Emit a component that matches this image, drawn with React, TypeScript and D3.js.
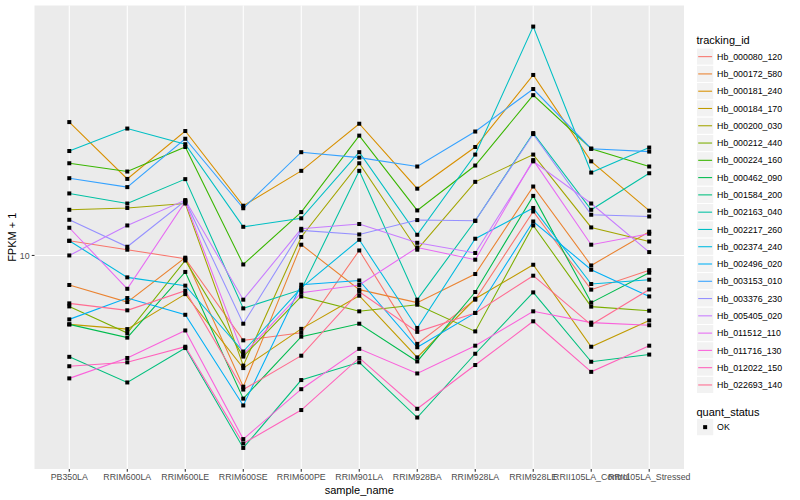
import * as d3 from 'd3';

// sample order along the x axis
const samples = [
  'PB350LA', 'RRIM600LA', 'RRIM600LE', 'RRIM600SE', 'RRIM600PE', 'RRIM901LA',
  'RRIM928BA', 'RRIM928LA', 'RRIM928LE', 'RRII105LA_Control', 'RRII105LA_Stressed',
];

const trackingIds = [
  'Hb_000080_120', 'Hb_000172_580', 'Hb_000181_240', 'Hb_000184_170', 'Hb_000200_030',
  'Hb_000212_440', 'Hb_000224_160', 'Hb_000462_090', 'Hb_001584_200', 'Hb_002163_040',
  'Hb_002217_260', 'Hb_002374_240', 'Hb_002496_020', 'Hb_003153_010', 'Hb_003376_230',
  'Hb_005405_020', 'Hb_011512_110', 'Hb_011716_130', 'Hb_012022_150', 'Hb_022693_140',
];

// FPKM + 1, one array per gene, in sample order
const hb000080_120 = [11.19, 10.45, 9.75, 5.21, 5.52, 10.39, 5.07, 7.12, 14.02, 7.69, 8.93];
const hb000172_580 = [7.97, 6.99, 9.83, 3.65, 10.86, 7.69, 6.96, 8.67, 16.98, 9.26, 12.0];
const hb000181_240 = [27.85, 18.0, 26.0, 14.65, 19.15, 27.5, 16.7, 23.0, 40.0, 20.6, 14.1];
const hb000184_170 = [5.89, 5.68, 7.43, 4.21, 5.69, 7.34, 4.57, 7.17, 9.31, 4.96, 6.07];
const hb000200_030 = [14.2, 14.4, 14.9, 4.29, 11.52, 20.3, 10.45, 17.6, 21.7, 12.4, 11.13];
const hb000212_440 = [6.76, 5.51, 9.62, 4.6, 7.3, 6.51, 6.85, 5.58, 12.59, 6.75, 6.54];
const hb000224_160 = [20.3, 19.05, 23.0, 9.33, 13.95, 25.1, 14.13, 19.95, 34.25, 22.7, 19.8];
const hb000462_090 = [5.89, 5.32, 8.81, 3.33, 5.36, 5.92, 4.43, 7.55, 15.8, 6.96, 8.76];
const hb001584_200 = [4.59, 3.77, 4.91, 2.28, 3.84, 4.4, 2.88, 4.7, 7.53, 4.42, 4.67];
const hb002163_040 = [16.1, 14.9, 17.97, 6.66, 7.69, 19.15, 7.12, 13.05, 25.6, 14.2, 18.8];
const hb002217_260 = [22.3, 26.5, 23.5, 12.46, 13.3, 22.1, 11.72, 21.7, 58.0, 18.9, 22.9];
const hb002374_240 = [11.19, 8.45, 7.93, 4.78, 7.8, 11.28, 5.73, 11.37, 14.4, 8.03, 8.3];
const hb002496_020 = [6.12, 7.21, 6.34, 3.16, 7.99, 8.25, 4.94, 6.43, 12.98, 8.96, 7.3];
const hb003153_010 = [18.1, 16.9, 24.5, 14.37, 22.1, 21.2, 19.8, 25.9, 35.9, 22.7, 22.2];
const hb003376_230 = [13.15, 10.69, 15.2, 5.92, 12.12, 11.75, 13.12, 13.05, 25.4, 13.67, 13.49];
const hb005405_020 = [10.0, 12.59, 15.3, 7.12, 12.27, 12.73, 11.02, 10.19, 20.6, 14.9, 10.26];
const hb011512_110 = [12.37, 7.74, 15.1, 4.67, 7.51, 7.97, 10.63, 9.68, 20.8, 10.86, 11.81];
const hb011716_130 = [3.89, 4.55, 5.62, 2.44, 3.58, 4.88, 4.04, 5.0, 6.51, 5.97, 5.85];
const hb012022_150 = [4.27, 4.4, 4.96, 2.36, 3.05, 4.55, 3.08, 4.31, 6.03, 4.09, 5.0];
const hb022693_140 = [6.92, 6.56, 7.63, 3.57, 4.63, 7.57, 5.56, 6.43, 8.56, 5.87, 7.7];

const seriesValues = [
  hb000080_120, hb000172_580, hb000181_240, hb000184_170, hb000200_030,
  hb000212_440, hb000224_160, hb000462_090, hb001584_200, hb002163_040,
  hb002217_260, hb002374_240, hb002496_020, hb003153_010, hb003376_230,
  hb005405_020, hb011512_110, hb011716_130, hb012022_150, hb022693_140,
];

const palette = [
  '#F8766D', '#EA8331', '#D89000', '#C09B00', '#A3A500', '#7CAE00', '#39B600',
  '#00BB4E', '#00BF7D', '#00C1A3', '#00BFC4', '#00BAE0', '#00B0F6', '#35A2FF',
  '#9590FF', '#C77CFF', '#E76BF3', '#FA62DB', '#FF62BC', '#FF6C91',
];

const yTicks = [1, 10, 100];

const width = 800;
const height = 500;
const panel = { left: 34.5, right: 684, top: 5.5, bottom: 469 };
const font = '"Liberation Sans", Arial, Helvetica, sans-serif';

export default function App() {
  const x = d3
    .scalePoint<string>()
    .domain(samples)
    .range([panel.left, panel.right])
    .padding(0.6);

  const all = seriesValues.flat();
  const [lo, hi] = d3.extent(all) as [number, number];
  const span = Math.log10(hi) - Math.log10(lo);
  const y = d3
    .scaleLog()
    .domain([10 ** (Math.log10(lo) - span * 0.05), 10 ** (Math.log10(hi) + span * 0.05)])
    .range([panel.bottom, panel.top]);

  const line = d3
    .line<number>()
    .x((_, i) => x(samples[i]) as number)
    .y((d) => y(d));

  const [dMin, dMax] = y.domain();
  const visibleTicks = yTicks.filter((t) => t >= dMin && t <= dMax);

  const keySize = 17.28;
  const legendX = 696.5;
  const keyTop = 48;

  return (
    <svg width={width} height={height} style={{ display: 'block', position: 'absolute', left: 0, top: 0 }} fontFamily={font}>
      <rect width={width} height={height} fill="#ffffff" />
      <rect
        x={panel.left}
        y={panel.top}
        width={panel.right - panel.left}
        height={panel.bottom - panel.top}
        fill="#EBEBEB"
      />
      {visibleTicks.map((t) => (
        <line key={t} x1={panel.left} x2={panel.right} y1={y(t)} y2={y(t)} stroke="#ffffff" strokeWidth={1.07} />
      ))}
      {samples.map((s) => (
        <line key={s} x1={x(s)} x2={x(s)} y1={panel.top} y2={panel.bottom} stroke="#ffffff" strokeWidth={1.07} />
      ))}

      {seriesValues.map((vals, i) => (
        <path key={trackingIds[i]} d={line(vals) || ''} fill="none" stroke={palette[i]} strokeWidth={1.07} />
      ))}
      {seriesValues.map((vals, i) =>
        vals.map((v, j) => (
          <rect key={`${i}-${j}`} x={(x(samples[j]) as number) - 2} y={y(v) - 2} width={4} height={4} fill="#000000" />
        ))
      )}

      {/* y axis */}
      {visibleTicks.map((t) => (
        <g key={t}>
          <line x1={panel.left - 2.75} x2={panel.left} y1={y(t)} y2={y(t)} stroke="#333333" strokeWidth={1.07} />
          <text x={panel.left - 4.9} y={y(t) + 3.1} textAnchor="end" fontSize={8.8} fill="#4D4D4D">
            {t}
          </text>
        </g>
      ))}
      <text
        transform={`translate(15.5, ${(panel.top + panel.bottom) / 2}) rotate(-90)`}
        textAnchor="middle"
        fontSize={11}
        fill="#000000"
      >
        FPKM + 1
      </text>

      {/* x axis */}
      {samples.map((s) => (
        <g key={s}>
          <line x1={x(s)} x2={x(s)} y1={panel.bottom} y2={panel.bottom + 2.75} stroke="#333333" strokeWidth={1.07} />
          <text x={x(s)} y={panel.bottom + 11.4} textAnchor="middle" fontSize={8.8} fill="#4D4D4D">
            {s}
          </text>
        </g>
      ))}
      <text x={(panel.left + panel.right) / 2} y={494} textAnchor="middle" fontSize={11} fill="#000000">
        sample_name
      </text>

      {/* legend: tracking_id */}
      <text x={legendX} y={43.5} fontSize={11} fill="#000000">
        tracking_id
      </text>
      {trackingIds.map((id, i) => {
        const top = keyTop + i * keySize;
        return (
          <g key={id}>
            <rect x={legendX} y={top} width={keySize} height={keySize} fill="#F2F2F2" stroke="#ffffff" strokeWidth={1} />
            <line
              x1={legendX + 1.7}
              x2={legendX + keySize - 1.7}
              y1={top + keySize / 2}
              y2={top + keySize / 2}
              stroke={palette[i]}
              strokeWidth={1.07}
            />
            <text x={legendX + keySize + 3.3} y={top + keySize / 2 + 3.1} fontSize={8.8} fill="#000000">
              {id}
            </text>
          </g>
        );
      })}

      {/* legend: quant_status */}
      <text x={legendX} y={416} fontSize={11} fill="#000000">
        quant_status
      </text>
      <rect x={legendX} y={418.5} width={keySize} height={keySize} fill="#F2F2F2" stroke="#ffffff" strokeWidth={1} />
      <rect x={legendX + keySize / 2 - 2} y={418.5 + keySize / 2 - 2} width={4} height={4} fill="#000000" />
      <text x={legendX + keySize + 3.3} y={418.5 + keySize / 2 + 3.1} fontSize={8.8} fill="#000000">
        OK
      </text>
    </svg>
  );
}
